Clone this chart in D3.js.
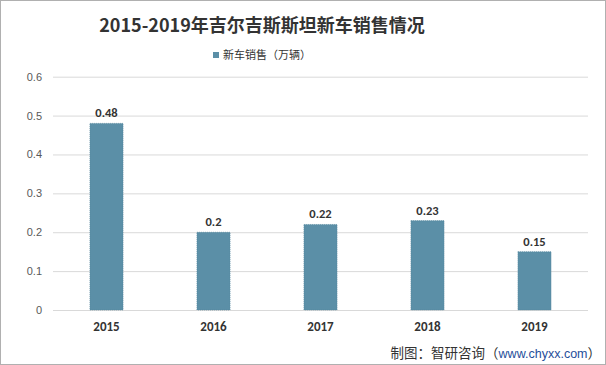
<!DOCTYPE html>
<html><head><meta charset="utf-8">
<script src="https://cdn.jsdelivr.net/npm/d3@7"></script>
<style>body{margin:0;background:#fff}svg{display:block}</style>
</head><body>
<svg id="c" width="606" height="365"></svg>
<script>
const title = "2015-2019年吉尔吉斯斯坦新车销售情况";
const seriesName = "新车销售（万辆）";
const years = ["2015","2016","2017","2018","2019"];
const sales = [0.48, 0.2, 0.22, 0.23, 0.15];
const yTicks = [0, 0.1, 0.2, 0.3, 0.4, 0.5, 0.6];

const svg = d3.select("#c");
const W = 606, H = 365;
const m = {left:53, right:18, top:76.7, bottom:55};
const font = "'Noto Sans CJK SC','Microsoft YaHei',sans-serif";

svg.append("rect").attr("x",0.5).attr("y",0.5).attr("width",W-1).attr("height",H-1)
  .attr("fill","#fff").attr("stroke","#b0b0b0");

const x = d3.scaleBand().domain(years).range([m.left, W-m.right]).paddingInner(0.69).paddingOuter(0.345);
const y = d3.scaleLinear().domain([0,0.6]).range([H-m.bottom, m.top]);

// gridlines
const yAxis = d3.axisLeft(y).tickValues(yTicks).tickSize(-(W-m.right-m.left)).tickPadding(11).tickFormat(d3.format("~g"));
const ga = svg.append("g").attr("transform",`translate(${m.left},0)`).call(yAxis);
ga.select(".domain").remove();
ga.selectAll(".tick line").attr("stroke","#d9d9d9");
ga.selectAll(".tick text").attr("fill","#595959").style("font-family","Arial, 'Liberation Sans', sans-serif").style("font-size","11px");

// bars
svg.append("g").selectAll("rect").data(sales).join("rect")
  .attr("x",(d,i)=>x(years[i])).attr("width",x.bandwidth())
  .attr("y",d=>y(d)).attr("height",d=>y(0)-y(d))
  .attr("fill","#5b8fa7").attr("stroke","#52849b").attr("stroke-width",0.6).attr("stroke-dasharray","1,1");

// value labels
svg.append("g").selectAll("text").data(sales).join("text")
  .attr("x",(d,i)=>x(years[i])+x.bandwidth()/2).attr("y",d=>y(d)-6)
  .attr("text-anchor","middle").attr("fill","#333")
  .style("font-family","Calibri, Carlito, 'Liberation Sans', Arial, sans-serif").style("font-weight","bold").style("font-size","12.5px")
  .text(d=>d3.format("~g")(d));

// x labels
const xa = svg.append("g").attr("transform",`translate(0,${H-m.bottom})`).call(d3.axisBottom(x).tickSize(0).tickPadding(12));
xa.select(".domain").remove();
xa.selectAll(".tick text").attr("fill","#333").style("font-family","Calibri, Carlito, 'Liberation Sans', Arial, sans-serif").style("font-weight","bold").style("font-size","13px");

// title
svg.append("text").attr("x",262).attr("y",32).attr("text-anchor","middle")
  .attr("fill","#333").style("font-family",font).style("font-weight","bold").style("font-size","18px")
  .text(title);

// legend
svg.append("rect").attr("x",213).attr("y",52).attr("width",6).attr("height",6).attr("fill","#5b8fa7");
svg.append("text").attr("x",223).attr("y",59).attr("fill","#333").style("font-family",font).style("font-size","11px").text(seriesName);

// footer
const ft = svg.append("text").attr("x",601).attr("y",358).attr("text-anchor","end")
  .style("font-family",font).style("font-size","13.5px").attr("fill","#333");
ft.append("tspan").text("制图：智研咨询（");
ft.append("tspan").attr("fill","#1f4e9a").style("font-family","Arial, 'Liberation Sans', sans-serif").style("font-size","12.5px").text("www.chyxx.com");
ft.append("tspan").text("）");
</script>
</body></html>
